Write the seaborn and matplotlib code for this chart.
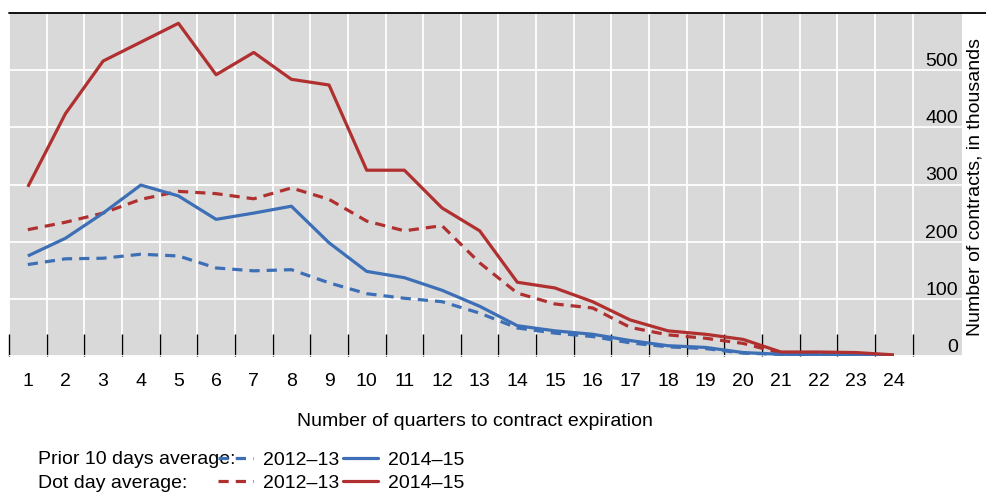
import numpy as np
import pandas as pd
import matplotlib.pyplot as plt
import matplotlib.lines as mlines
import seaborn as sns

# Data (thousands of contracts)
quarters = list(range(1, 25))
prior_2012 = [160, 170, 171, 178, 175, 154, 149, 151, 128, 109, 101, 95, 75,
              49, 40, 34, 23, 16, 13, 5, 3, 2, 2, 1]
prior_2014 = [175, 206, 250, 299, 280, 239, 250, 262, 198, 148, 137, 115, 87,
              53, 44, 38, 27, 18, 15, 6, 3, 2, 2, 1]
dot_2012 = [221, 234, 250, 274, 288, 284, 275, 294, 274, 236, 219, 228, 163,
            110, 91, 84, 50, 37, 31, 22, 5, 4, 3, 1]
dot_2014 = [296, 424, 516, 549, 582, 492, 531, 484, 474, 325, 325, 259, 219,
            129, 119, 95, 63, 44, 38, 29, 7, 7, 6, 2]

blue = '#3d6fb6'
red = '#b03030'
fs = 14

sns.set_theme(style="darkgrid")
plt.rcParams['font.family'] = ['Liberation Sans', 'DejaVu Sans']
plt.rcParams['text.color'] = 'black'

fig = plt.figure(figsize=(9.86, 4.93), dpi=100)
W, H = 986, 493
ax = fig.add_axes([9 / W, 1 - 356 / H, (962 - 9) / W, (356 - 13) / H])
ax.set_facecolor('#d9d9d9')

df = pd.DataFrame({'quarter': quarters, 'prior_2012': prior_2012,
                   'prior_2014': prior_2014, 'dot_2012': dot_2012,
                   'dot_2014': dot_2014})

dash = (3.2, 2.2)
sns.lineplot(data=df, x='quarter', y='prior_2012', ax=ax, color=blue, lw=2.3,
             linestyle=(0, dash))
sns.lineplot(data=df, x='quarter', y='dot_2012', ax=ax, color=red, lw=2.3,
             linestyle=(0, dash))
sns.lineplot(data=df, x='quarter', y='prior_2014', ax=ax, color=blue, lw=2.3)
sns.lineplot(data=df, x='quarter', y='dot_2014', ax=ax, color=red, lw=2.3)
for ln in ax.lines:
    ln.set_solid_capstyle('butt')
    ln.set_dash_capstyle('butt')

ax.set_xlim(0.5, 25.81)
ax.set_ylim(0, 600)

# x axis: labels at categories, black inward ticks + grid on boundaries
ax.set_xticks(quarters)
ax.set_xticklabels([str(q) for q in quarters], fontsize=fs)
ax.set_xticks(np.arange(0.5, 25, 1), minor=True)
ax.tick_params(axis='x', which='major', length=0, pad=12, colors='black')
ax.tick_params(axis='x', which='minor', direction='in', length=16, width=1,
               color='black', bottom=True)
ax.grid(False)
ax.grid(True, which='minor', axis='x', color='white', lw=1.3)
ax.grid(True, which='major', axis='y', color='white', lw=1.3)

# y axis: labels on the right, drawn inside the panel above the gridlines
ax.set_yticks([0, 100, 200, 300, 400, 500])
ax.tick_params(axis='y', which='major', left=False, right=False, length=0,
               labelleft=False, labelright=True, pad=-3, labelsize=fs,
               labelcolor='black')
for lab in ax.get_yticklabels():
    lab.set_horizontalalignment('right')
    lab.set_verticalalignment('bottom')

for side in ['left', 'right', 'bottom', 'top']:
    ax.spines[side].set_visible(False)
fig.add_artist(mlines.Line2D([9 / W, 1.0], [1 - 12.5 / H, 1 - 12.5 / H],
                             color='black', lw=1.3))

ax.set_xlabel('')
ax.set_ylabel('')
fig.text(475 / W, 1 - 421 / H, 'Number of quarters to contract expiration',
         ha='center', va='center', fontsize=fs)
fig.text(975 / W, 1 - 187 / H, 'Number of contracts, in thousands',
         ha='center', va='center', rotation=90, fontsize=fs)

# legend: two rows with labels written at the left
handles = [mlines.Line2D([], [], color=blue, lw=2.3, linestyle=(0, dash)),
           mlines.Line2D([], [], color=red, lw=2.3, linestyle=(0, dash)),
           mlines.Line2D([], [], color=blue, lw=2.3),
           mlines.Line2D([], [], color=red, lw=2.3)]
labels = ['2012–13', '2012–13', '2014–15', '2014–15']
fig.legend(handles, labels, ncol=2, loc='upper left',
           bbox_to_anchor=(218 / W, 1 - 451 / H), frameon=False, fontsize=fs,
           borderpad=0, borderaxespad=0, handlelength=1.8, handletextpad=0.52,
           columnspacing=0.2, labelspacing=0.3)
fig.text(38 / W, 1 - 459 / H, 'Prior 10 days average:', ha='left',
         va='center', fontsize=fs)
fig.text(38 / W, 1 - 483 / H, 'Dot day average:', ha='left', va='center',
         fontsize=fs)

fig.savefig('out.png', dpi=100)
